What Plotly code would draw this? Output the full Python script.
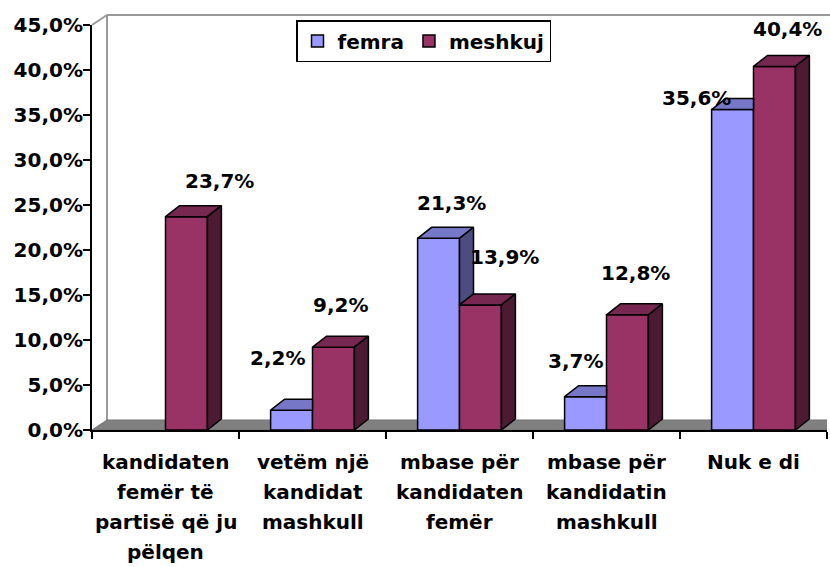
import plotly.graph_objects as go

# ---- data -------------------------------------------------------------
category_lines = [
    ["kandidaten", "femër të", "partisë që ju", "pëlqen"],
    ["vetëm një", "kandidat", "mashkull"],
    ["mbase për", "kandidaten", "femër"],
    ["mbase për", "kandidatin", "mashkull"],
    ["Nuk e di"],
]
series_names = ["femra", "meshkuj"]
femra = [None, 0.022, 0.213, 0.037, 0.356]
meshkuj = [0.237, 0.092, 0.139, 0.128, 0.404]
y_ticks = [0.0, 0.05, 0.10, 0.15, 0.20, 0.25, 0.30, 0.35, 0.40, 0.45]

# ---- styling / layout constants ---------------------------------------
W, H = 830, 567
ML, MR, MT, MB = 92, 3, 25, 137
PW, PH = W - ML - MR, H - MT - MB
Y_MAX = 0.45
N = len(category_lines)
FONT = "DejaVu Sans"
COL_F = (0x99, 0x99, 0xFF)
COL_M = (0x99, 0x33, 0x66)

# pixel -> data conversion for the 3-D depth effect
px_x = PW / N          # px per category unit
px_y = PH / Y_MAX      # px per value unit
BAR_DX, BAR_DY = 14 / px_x, 11 / px_y
FLOOR_DX, FLOOR_DY = 15 / px_x, 10 / px_y
BARGAP = 0.43
BW = (1 - BARGAP) / 2  # width of a single bar


def shade(rgb, k):
    return "rgb(%d,%d,%d)" % tuple(int(round(c * k)) for c in rgb)


def fmt(v):
    return ("%.1f%%" % (v * 100)).replace(".", ",")


def poly(xs, ys, fill):
    return go.Scatter(
        x=list(xs) + [xs[0]], y=list(ys) + [ys[0]],
        mode="lines", fill="toself", fillcolor=fill,
        line=dict(color="black", width=1.5),
        showlegend=False, hoverinfo="skip",
    )


fig = go.Figure()

# front faces
fig.add_trace(go.Bar(
    name=series_names[0], x=list(range(N)), y=femra,
    marker=dict(color=shade(COL_F, 1), line=dict(color="black", width=1.5)),
))
fig.add_trace(go.Bar(
    name=series_names[1], x=list(range(N)), y=meshkuj,
    marker=dict(color=shade(COL_M, 1), line=dict(color="black", width=1.5)),
))

# femra top + visible part of its side face
for i, (f, m) in enumerate(zip(femra, meshkuj)):
    if not f:
        continue
    x0, x1 = i - BW, i
    if m is not None and m >= f + BAR_DY:
        # right part of the top hidden behind the taller neighbour
        fig.add_trace(poly([x0, x1, x1, x0 + BAR_DX],
                           [f, f, f + BAR_DY, f + BAR_DY], shade(COL_F, 0.78)))
    else:
        fig.add_trace(poly([x0, x1, x1 + BAR_DX, x0 + BAR_DX],
                           [f, f, f + BAR_DY, f + BAR_DY], shade(COL_F, 0.78)))
        base = m if m is not None else 0
        fig.add_trace(poly([x1, x1 + BAR_DX, x1 + BAR_DX, x1],
                           [f, f + BAR_DY, base + BAR_DY, base], shade(COL_F, 0.5)))

# meshkuj top + side faces
for i, m in enumerate(meshkuj):
    if not m:
        continue
    x0, x1 = i, i + BW
    fig.add_trace(poly([x0, x1, x1 + BAR_DX, x0 + BAR_DX],
                       [m, m, m + BAR_DY, m + BAR_DY], shade(COL_M, 0.78)))
    fig.add_trace(poly([x1, x1 + BAR_DX, x1 + BAR_DX, x1],
                       [m, m + BAR_DY, BAR_DY, 0], shade(COL_M, 0.5)))

# ---- value labels -------------------------------------------------------
label_shift = {
    (0, 1): (33, 36),
    (1, 0): (-14, 52), (1, 1): (7, 42),
    (2, 0): (13, 35), (2, 1): (24, 48),
    (3, 0): (-10, 36), (3, 1): (8, 42),
    (4, 0): (-36, 12), (4, 1): (13, 37),
}
annotations = []
for s, vals in enumerate([femra, meshkuj]):
    for i, v in enumerate(vals):
        if not v:
            continue
        cx = i - BW / 2 if s == 0 else i + BW / 2
        sx, sy = label_shift[(i, s)]
        annotations.append(dict(
            x=cx, y=v, xref="x", yref="y", text=fmt(v), showarrow=False,
            xshift=sx, yshift=sy, xanchor="center", yanchor="middle",
            font=dict(family=FONT, size=20, color="black", weight="bold"),
        ))

# category labels, one annotation per line
for i, lines in enumerate(category_lines):
    for j, line in enumerate(lines):
        annotations.append(dict(
            x=i, y=0, xref="x", yref="paper", text=line, showarrow=False,
            yshift=-(32 + 30 * j), xanchor="center", yanchor="middle",
            font=dict(family=FONT, size=20, color="black", weight="bold"),
        ))

# ---- floor and walls ----------------------------------------------------
wall_dx = 15 / PW
wall_dy = 10 / PH
wall = dict(color="#999999", width=2)
shapes = [
    dict(type="path", xref="x", yref="y", layer="below",
         path="M %f,0 L %f,0 L %f,%f L %f,%f Z" % (
             -0.5, N - 0.5, N - 0.5 + FLOOR_DX, FLOOR_DY, -0.5 + FLOOR_DX, FLOOR_DY),
         fillcolor="#808080", line=dict(color="#707070", width=1)),
    dict(type="line", xref="paper", yref="paper", layer="below",
         x0=wall_dx, y0=wall_dy, x1=wall_dx, y1=1 + wall_dy, line=wall),
    dict(type="line", xref="paper", yref="paper", layer="below",
         x0=wall_dx, y0=1 + wall_dy, x1=1 + MR / PW, y1=1 + wall_dy, line=wall),
    dict(type="line", xref="paper", yref="paper", layer="below",
         x0=0, y0=1, x1=wall_dx, y1=1 + wall_dy, line=wall),
]

fig.update_layout(
    width=W, height=H, autosize=False,
    margin=dict(l=ML, r=MR, t=MT, b=MB),
    paper_bgcolor="white", plot_bgcolor="white",
    barmode="group", bargap=BARGAP, bargroupgap=0,
    separators=",.",
    font=dict(family=FONT, size=20, color="black", weight="bold"),
    showlegend=True,
    legend=dict(
        orientation="h", x=(296 - ML) / PW, y=1 + 5 / PH,
        xanchor="left", yanchor="top",
        bordercolor="black", borderwidth=1.5, bgcolor="white",
        font=dict(family=FONT, size=20, color="black", weight="bold"),
        itemwidth=30, traceorder="normal",
    ),
    annotations=annotations,
    shapes=shapes,
    xaxis=dict(
        range=[-0.5, N - 0.5], showgrid=False, zeroline=False,
        showline=True, linecolor="black", linewidth=2,
        tickmode="array", tickvals=[k - 0.5 for k in range(N + 1)],
        showticklabels=False, ticks="outside", ticklen=7, tickwidth=2,
        tickcolor="black",
    ),
    yaxis=dict(
        range=[0, Y_MAX], showgrid=False, zeroline=False,
        showline=True, linecolor="black", linewidth=2,
        tickmode="array", tickvals=y_ticks, tickformat=".1%",
        ticks="outside", ticklen=7, tickwidth=2, tickcolor="black",
        ticklabelstandoff=-4,
        tickfont=dict(family=FONT, size=20, color="black", weight="bold"),
    ),
)

fig.write_html("out.html")
